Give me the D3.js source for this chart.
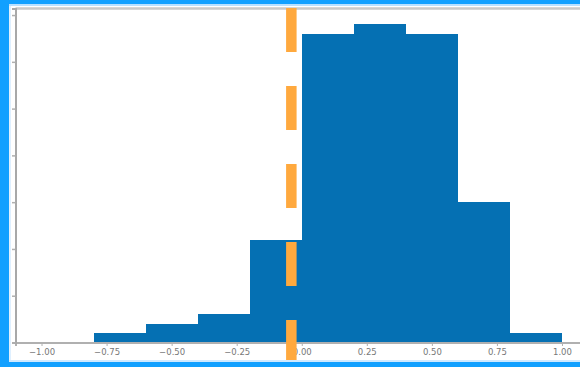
<!DOCTYPE html>
<html>
<head>
<meta charset="utf-8">
<script src="https://cdn.jsdelivr.net/npm/d3@7"></script>
<style>
  html, body { margin: 0; padding: 0; background: #fff; }
  svg { display: block; }
</style>
</head>
<body>
<svg id="chart" width="580" height="367"></svg>
<script>
// Histogram bins: edges and counts per bin
const binEdges = [-0.8, -0.6, -0.4, -0.2, 0.0, 0.2, 0.4, 0.6, 0.8, 1.0];
const binCounts = [1, 2, 3, 11, 33, 34, 33, 15, 1];
// Reference marker (dashed vertical line)
const markerValue = -0.04;
// Tick values
const xTickValues = [-1.0, -0.75, -0.5, -0.25, 0.0, 0.25, 0.5, 0.75, 1.0];
const yTickValues = [0, 5, 10, 15, 20, 25, 30, 35];

const width = 580, height = 367;
const svg = d3.select("#chart");

const x = d3.scaleLinear().domain([-1.1, 1.1]).range([15.5, 588]);
const y = d3.scaleLinear().domain([0, 35.7]).range([342.5, 8.5]);

const bins = binCounts.map((c, i) => ({ x0: binEdges[i], x1: binEdges[i + 1], count: c }));

// white plotting background
svg.append("rect").attr("x", 0).attr("y", 0).attr("width", width).attr("height", height).attr("fill", "#fff");

// top spine
svg.append("line")
  .attr("x1", x(-1.1)).attr("x2", width)
  .attr("y1", y(35.7)).attr("y2", y(35.7))
  .attr("stroke", "#c9c9c9").attr("stroke-width", 2.5);

// bars
svg.append("g").selectAll("rect")
  .data(bins)
  .join("rect")
  .attr("x", d => x(d.x0))
  .attr("width", d => x(d.x1) - x(d.x0))
  .attr("y", d => y(d.count))
  .attr("height", d => y(0) - y(d.count))
  .attr("fill", "#0570b3")
  .attr("shape-rendering", "crispEdges");

// x axis
const xAxis = svg.append("g")
  .attr("transform", `translate(0,${y(0)})`)
  .call(d3.axisBottom(x).tickValues(xTickValues).tickSize(3.5).tickPadding(3)
    .tickFormat(d => d3.format(".2f")(d).replace("-", "\u2212")));
xAxis.select(".domain").attr("stroke", "#b0b0b0").attr("stroke-width", 2);
xAxis.selectAll(".tick line").attr("stroke", "#b0b0b0");
xAxis.selectAll(".tick text")
  .attr("fill", "#777")
  .style("font-family", "'DejaVu Sans', sans-serif")
  .style("font-size", "8.5px");

// y axis (labels fall outside the visible frame)
const yAxis = svg.append("g")
  .attr("transform", `translate(${x(-1.1)},0)`)
  .call(d3.axisLeft(y).tickValues(yTickValues).tickSize(3.5).tickFormat(""));
yAxis.select(".domain").attr("stroke", "#a8a8a8").attr("stroke-width", 2);
yAxis.selectAll(".tick line").attr("stroke", "#b0b0b0").attr("stroke-width", 1.5);

// dashed marker line
svg.append("line")
  .attr("x1", x(markerValue)).attr("x2", x(markerValue))
  .attr("y1", 8).attr("y2", 366)
  .attr("stroke", "#ffa93e")
  .attr("stroke-width", 10.5)
  .attr("stroke-dasharray", "44 34");

// frame border
const border = svg.append("g");
border.append("rect").attr("x", 0).attr("y", 0).attr("width", 9).attr("height", height).attr("fill", "#12a0ff");
border.append("rect").attr("x", 9).attr("y", 0).attr("width", 2).attr("height", height).attr("fill", "#dff0ff");
border.append("rect").attr("x", 0).attr("y", 0).attr("width", width).attr("height", 4).attr("fill", "#12a0ff");
border.append("rect").attr("x", 9).attr("y", 4).attr("width", width).attr("height", 2).attr("fill", "#b8e0ff");
border.append("rect").attr("x", 9).attr("y", 360).attr("width", width).attr("height", 2).attr("fill", "#cfe9ff");
border.append("rect").attr("x", 0).attr("y", 362).attr("width", width).attr("height", 5).attr("fill", "#12a0ff");
</script>
</body>
</html>
